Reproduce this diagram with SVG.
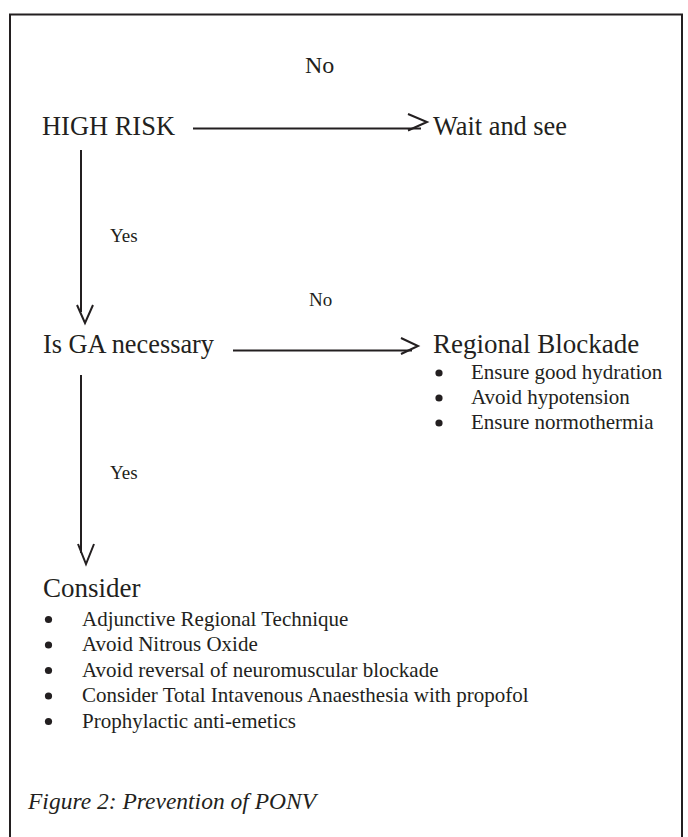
<svg xmlns="http://www.w3.org/2000/svg" width="688" height="837" viewBox="0 0 688 837">
<style>
text{font-family:"Liberation Serif","Times New Roman",serif;fill:#231f20}
.h{font-size:27px}
.s{font-size:21px}
.l{font-size:19px}
.c{font-size:23.5px;font-style:italic}
.ln{stroke:#231f20;stroke-width:2;fill:none}
.hd{stroke:#231f20;stroke-width:2;fill:none;stroke-linejoin:miter}
.b{fill:#231f20}
</style>
<rect width="688" height="837" fill="#ffffff"/>
<rect x="10" y="14.5" width="672" height="840" fill="none" stroke="#231f20" stroke-width="2"/>
<g id="connectors">
<line class="ln" x1="193" y1="128.5" x2="421" y2="128.5"/>
<polyline class="hd" points="408,114 427,122 408,130.5"/>
<line class="ln" x1="81" y1="150" x2="81" y2="312"/>
<polyline class="hd" points="77,305 85,323 93,305"/>
<line class="ln" x1="233" y1="350.5" x2="412" y2="350.5"/>
<polyline class="hd" points="401,338 418,346 401,354"/>
<line class="ln" x1="81" y1="375" x2="81" y2="553"/>
<polyline class="hd" points="78,544 86,564 94,544"/>
<text class="l" x="305" y="73" style="font-size:24px">No</text>
<text class="l" x="110" y="242">Yes</text>
<text class="l" x="309" y="306">No</text>
<text class="l" x="110" y="479">Yes</text>
</g>
<g id="high-risk"><text class="h" x="42" y="135" textLength="133" lengthAdjust="spacingAndGlyphs">HIGH RISK</text></g>
<g id="wait-and-see"><text class="h" x="433" y="135" textLength="134" lengthAdjust="spacingAndGlyphs">Wait and see</text></g>
<g id="is-ga-necessary"><text class="h" x="43" y="353" textLength="171" lengthAdjust="spacingAndGlyphs">Is GA necessary</text></g>
<g id="regional-blockade">
<text class="h" x="433" y="353">Regional Blockade</text>
<circle class="b" cx="439" cy="373" r="3.6"/>
<circle class="b" cx="439" cy="398" r="3.6"/>
<circle class="b" cx="439" cy="423" r="3.6"/>
<text class="s" x="471" y="379">Ensure good hydration</text>
<text class="s" x="471" y="404">Avoid hypotension</text>
<text class="s" x="471" y="429">Ensure normothermia</text>
</g>
<g id="consider">
<text class="h" x="43" y="597">Consider</text>
<circle class="b" cx="48.5" cy="619.5" r="3.6"/>
<circle class="b" cx="48.5" cy="645" r="3.6"/>
<circle class="b" cx="48.5" cy="670.5" r="3.6"/>
<circle class="b" cx="48.5" cy="696" r="3.6"/>
<circle class="b" cx="48.5" cy="721.5" r="3.6"/>
<text class="s" x="82" y="625.5">Adjunctive Regional Technique</text>
<text class="s" x="82" y="651">Avoid Nitrous Oxide</text>
<text class="s" x="82" y="676.5">Avoid reversal of neuromuscular blockade</text>
<text class="s" x="82" y="702">Consider Total Intavenous Anaesthesia with propofol</text>
<text class="s" x="82" y="727.5">Prophylactic anti-emetics</text>
</g>
<g id="caption"><text class="c" x="28" y="809">Figure 2: Prevention of PONV</text></g>
</svg>
